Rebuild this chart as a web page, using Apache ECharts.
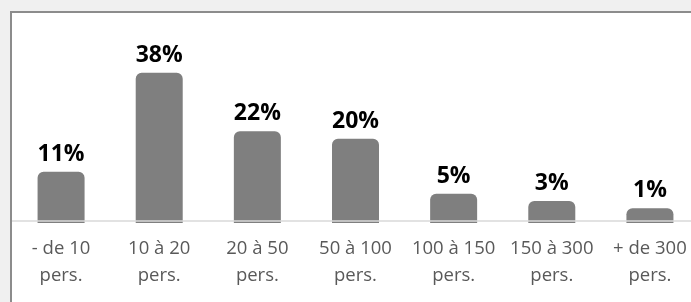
<!DOCTYPE html>
<html>
<head>
<meta charset="utf-8">
<script src="https://cdn.jsdelivr.net/npm/echarts@6/dist/echarts.min.js"></script>
<style>
  html, body { margin: 0; padding: 0; width: 691px; height: 302px; overflow: hidden; background: #f0f0f0; }
  #frame {
    position: absolute; left: 10px; top: 11px; width: 700px; height: 300px;
    border-left: 2px solid #8c8c8c; border-top: 2px solid #8c8c8c; background: #fff;
  }
  #chart { position: absolute; left: 0; top: 0; width: 700px; height: 289px; }
</style>
</head>
<body>
<div id="frame"><div id="chart"></div></div>
<script>
// tailles d'entreprise
const categories = ['- de 10\npers.', '10 à 20\npers.', '20 à 50\npers.', '50 à 100\npers.', '100 à 150\npers.', '150 à 300\npers.', '+ de 300\npers.']
const shares = [11, 38, 22, 20, 5, 3, 1]

const chart = echarts.init(document.getElementById('chart'))

chart.setOption({
  animation: false,
  grid: { left: -2, width: 689, top: 34, height: 176 },
  xAxis: {
    type: 'category',
    data: categories,
    offset: -2,
    z: 5,
    axisLine: { onZero: false, lineStyle: { color: '#d9d9d9', width: 1.5 } },
    axisTick: { show: false },
    axisLabel: {
      color: '#595959',
      fontFamily: 'Open Sans',
      fontSize: 18.5,
      lineHeight: 27,
      margin: 14,
      interval: 0,
    },
  },
  yAxis: {
    type: 'value',
    min: -3,
    max: 45,
    startValue: -3,
    show: false,
    splitLine: { show: false },
  },
  series: [{
    type: 'bar',
    data: shares,
    barWidth: 47,
    itemStyle: { color: '#7f7f7f', borderRadius: [6, 6, 0, 0] },
    label: {
      show: true,
      position: 'top',
      distance: 6,
      formatter: p => p.value + '%',
      color: '#000',
      fontFamily: 'Open Sans',
      fontWeight: 'bold',
      fontSize: 23,
    },
  }],
})
</script>
</body>
</html>
